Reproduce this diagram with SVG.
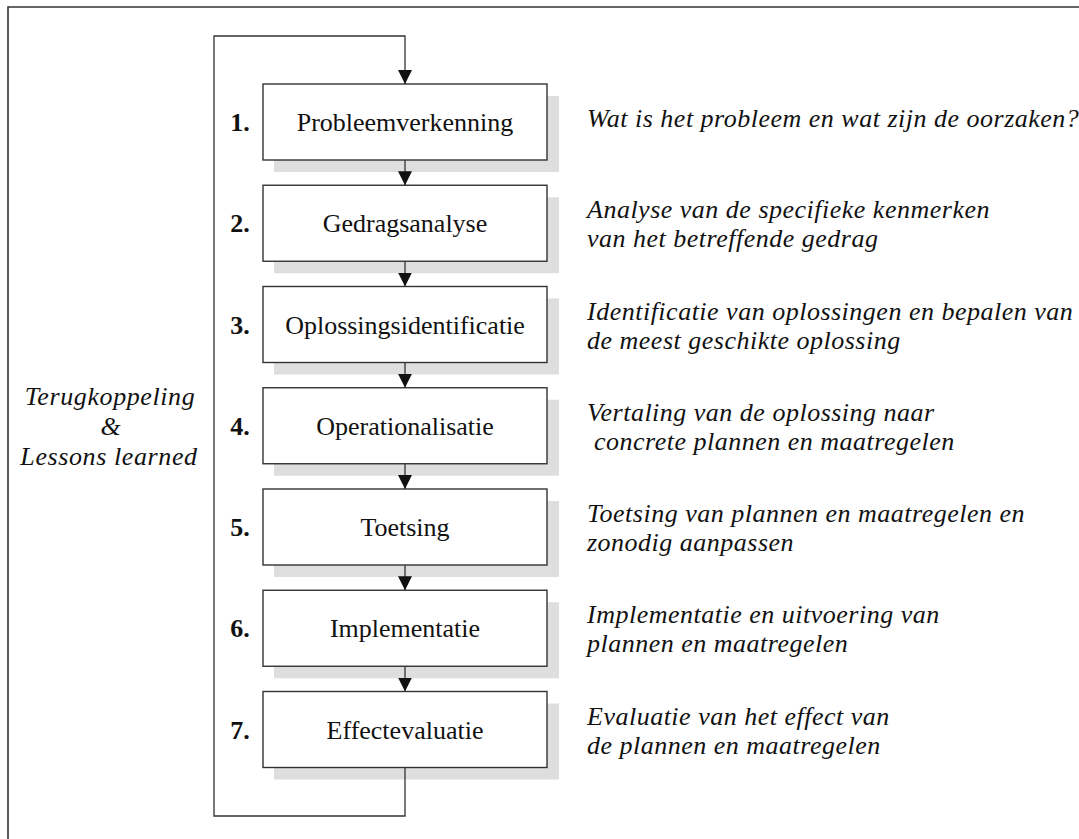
<svg xmlns="http://www.w3.org/2000/svg" width="1079" height="839" viewBox="0 0 1079 839">
  <defs>
    <style>
      .frame { fill: none; stroke: #333; stroke-width: 1.6; }
      .box { fill: #fff; stroke: #333; stroke-width: 1.4; }
      .shadow { fill: #dedede; stroke: none; }
      .wire { fill: none; stroke: #333; stroke-width: 1.3; }
      .label { font-family: "Liberation Serif", "Times New Roman", serif; font-size: 26px; fill: #111; text-anchor: middle; }
      .num { font-family: "Liberation Serif", "Times New Roman", serif; font-size: 26px; font-weight: bold; fill: #111; text-anchor: middle; }
      .desc { font-family: "Liberation Serif", "Times New Roman", serif; font-size: 26px; font-style: italic; fill: #111; white-space: pre; letter-spacing: 0.5px; }
      .side { font-family: "Liberation Serif", "Times New Roman", serif; font-size: 26px; font-style: italic; fill: #111; text-anchor: middle; letter-spacing: 0.6px; }
    </style>
    <marker id="arrow" viewBox="0 0 14 14" refX="14" refY="7" markerWidth="14" markerHeight="14" markerUnits="userSpaceOnUse" orient="auto">
      <path d="M0,0 L14,7 L0,14 Z" fill="#111"/>
    </marker>
  </defs>

  <rect width="1079" height="839" fill="#fff"/>

  <!-- outer frame (top and left edges) -->
  <path class="frame" d="M8,839 V7 H1079"/>

  <!-- feedback label -->
  <g id="feedback-label">
    <text class="side" x="110" y="405">Terugkoppeling</text>
    <text class="side" x="111" y="435">&amp;</text>
    <text class="side" x="109" y="465">Lessons learned</text>
  </g>

  <!-- step boxes: 263..547 wide, 76 high, 101.25 apart -->
  <g id="step1">
    <rect class="shadow" x="274" y="96" width="285" height="76"/>
    <rect class="box" x="263" y="84" width="284" height="76"/>
    <text class="num" x="240" y="131">1.</text>
    <text class="label" x="405" y="131">Probleemverkenning</text>
    <text class="desc" x="587" y="127">Wat is het probleem en wat zijn de oorzaken?</text>
  </g>
  <g id="step2">
    <rect class="shadow" x="274" y="197.25" width="285" height="76"/>
    <rect class="box" x="263" y="185.25" width="284" height="76"/>
    <text class="num" x="240" y="232.25">2.</text>
    <text class="label" x="405" y="232.25">Gedragsanalyse</text>
    <text class="desc" x="587" y="218.25">Analyse van de specifieke kenmerken</text>
    <text class="desc" x="587" y="247.25">van het betreffende gedrag</text>
  </g>
  <g id="step3">
    <rect class="shadow" x="274" y="298.5" width="285" height="76"/>
    <rect class="box" x="263" y="286.5" width="284" height="76"/>
    <text class="num" x="240" y="333.5">3.</text>
    <text class="label" x="405" y="333.5">Oplossingsidentificatie</text>
    <text class="desc" x="587" y="319.5">Identificatie van oplossingen en bepalen van</text>
    <text class="desc" x="587" y="348.5">de meest geschikte oplossing</text>
  </g>
  <g id="step4">
    <rect class="shadow" x="274" y="399.75" width="285" height="76"/>
    <rect class="box" x="263" y="387.75" width="284" height="76"/>
    <text class="num" x="240" y="434.75">4.</text>
    <text class="label" x="405" y="434.75">Operationalisatie</text>
    <text class="desc" x="587" y="420.75">Vertaling van de oplossing naar</text>
    <text class="desc" x="587" y="449.75"> concrete plannen en maatregelen</text>
  </g>
  <g id="step5">
    <rect class="shadow" x="274" y="501" width="285" height="76"/>
    <rect class="box" x="263" y="489" width="284" height="76"/>
    <text class="num" x="240" y="536">5.</text>
    <text class="label" x="405" y="536">Toetsing</text>
    <text class="desc" x="587" y="522">Toetsing van plannen en maatregelen en</text>
    <text class="desc" x="587" y="551">zonodig aanpassen</text>
  </g>
  <g id="step6">
    <rect class="shadow" x="274" y="602.25" width="285" height="76"/>
    <rect class="box" x="263" y="590.25" width="284" height="76"/>
    <text class="num" x="240" y="637.25">6.</text>
    <text class="label" x="405" y="637.25">Implementatie</text>
    <text class="desc" x="587" y="623.25">Implementatie en uitvoering van</text>
    <text class="desc" x="587" y="652.25">plannen en maatregelen</text>
  </g>
  <g id="step7">
    <rect class="shadow" x="274" y="703.5" width="285" height="76"/>
    <rect class="box" x="263" y="691.5" width="284" height="76"/>
    <text class="num" x="240" y="738.5">7.</text>
    <text class="label" x="405" y="738.5">Effectevaluatie</text>
    <text class="desc" x="587" y="724.5">Evaluatie van het effect van</text>
    <text class="desc" x="587" y="753.5">de plannen en maatregelen</text>
  </g>

  <!-- connectors -->
  <g id="connectors">
    <path class="wire" d="M405,767.5 V816 H214 V36 H405 V84" marker-end="url(#arrow)"/>
    <path class="wire" d="M405,160 V185.25" marker-end="url(#arrow)"/>
    <path class="wire" d="M405,261.25 V286.5" marker-end="url(#arrow)"/>
    <path class="wire" d="M405,362.5 V387.75" marker-end="url(#arrow)"/>
    <path class="wire" d="M405,463.75 V489" marker-end="url(#arrow)"/>
    <path class="wire" d="M405,565 V590.25" marker-end="url(#arrow)"/>
    <path class="wire" d="M405,666.25 V691.5" marker-end="url(#arrow)"/>
  </g>
</svg>
